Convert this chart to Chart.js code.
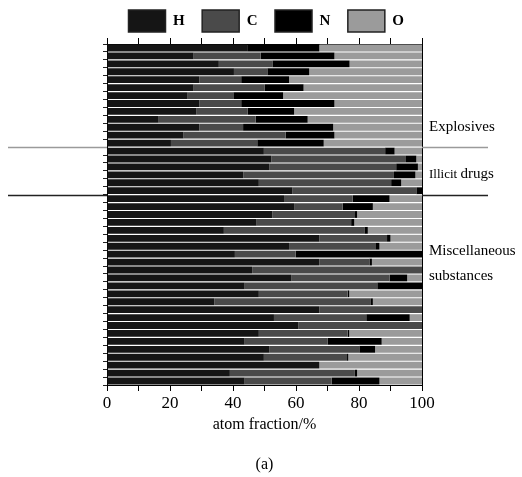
<!DOCTYPE html>
<html>
<head>
<meta charset="utf-8">
<script src="https://cdn.jsdelivr.net/npm/chart.js@4.4.1/dist/chart.umd.min.js"></script>
<style>
  html, body { margin: 0; padding: 0; background: #fff; }
  #wrap { width: 522px; height: 477px; position: relative; }
</style>
</head>
<body>
<div id="wrap"><canvas id="chart"></canvas></div>
<script>
// Sample groups (top to bottom)
const groupNames = ['Explosives', 'Illicit drugs', 'Miscellaneous substances'];
const groupSizes = [13, 6, 24];

// Atom fractions (%) per sample, top row first
const hydrogen = [44.5, 27.5, 35.5, 40.3, 29.3, 27.5, 25.6, 29.3, 28.3, 16.4, 29.3, 24.3, 20.3,
    49.8, 52.2, 51.6, 43.3, 48.2, 58.9,
    56.2, 59.4, 52.5, 47.5, 37.1, 67.4, 57.8, 40.6, 67.4, 46.1, 58.6, 43.7,
    48.2, 34.1, 67.4, 53.0, 60.7, 48.2, 43.7, 51.6, 49.8, 67.4, 39.0, 43.7];
const carbon = [0, 21.3, 17.0, 10.6, 13.3, 22.6, 14.5, 13.3, 16.4, 30.8, 13.9, 32.4, 27.4,
    38.5, 42.5, 40.2, 47.8, 42.0, 39.3,
    21.8, 15.4, 26.0, 30.0, 44.6, 21.5, 27.6, 19.3, 15.9, 53.9, 31.1, 42.1,
    28.2, 49.5, 32.6, 29.3, 39.3, 28.2, 26.3, 28.5, 26.4, 0, 39.7, 27.6];
const nitrogen = [22.9, 23.4, 24.5, 13.3, 15.2, 12.3, 15.8, 29.6, 14.7, 16.5, 28.6, 15.5, 21.1,
    3.0, 3.5, 6.9, 6.8, 3.2, 1.8,
    11.7, 9.6, 0.9, 1.0, 1.1, 1.1, 1.1, 40.1, 0.8, 0, 5.6, 14.2,
    0.5, 0.8, 0, 13.8, 0, 0.5, 17.2, 5.0, 0.4, 0, 0.7, 15.2];
const oxygen = [32.6, 27.8, 23.0, 35.8, 42.2, 37.6, 44.1, 27.8, 40.6, 36.3, 28.2, 27.8, 31.2,
    8.7, 1.8, 1.3, 2.1, 6.6, 0,
    10.3, 15.6, 20.6, 21.5, 17.2, 10.0, 13.5, 0, 15.9, 0, 4.7, 0,
    23.1, 15.6, 0, 3.9, 0, 23.1, 12.8, 14.9, 23.4, 32.6, 20.6, 13.5];

const xTicks = [0, 20, 40, 60, 80, 100];

const samples = hydrogen.map((v, i) => String(i + 1));

Chart.defaults.font.family = "'Liberation Serif', 'Times New Roman', serif";
Chart.defaults.color = '#000';

// group separator lines and group names on the right
const groupPlugin = {
    id: 'groups',
    afterDraw(chart) {
        const c = chart.ctx;
        const y = chart.scales.y;
        const area = chart.chartArea;
        const lineColors = ['#9a9a9a', '#222'];
        let idx = 0;
        c.save();
        for (let g = 0; g < groupSizes.length - 1; g++) {
            idx += groupSizes[g];
            const py = Math.round((y.getPixelForValue(idx - 1) + y.getPixelForValue(idx)) / 2) + 0.5;
            c.strokeStyle = lineColors[g];
            c.lineWidth = 1.5;
            c.beginPath();
            c.moveTo(8, py); c.lineTo(area.left, py);
            c.moveTo(area.right, py); c.lineTo(area.right + 66, py);
            c.stroke();
        }
        c.fillStyle = '#000';
        c.textBaseline = 'middle';
        c.textAlign = 'left';
        const tx = area.right + 7;
        c.font = "15px 'Liberation Serif'";
        c.fillText('Explosives', tx, y.getPixelForValue(10));
        c.font = "13px 'Liberation Serif'";
        c.fillText('Illicit', tx, y.getPixelForValue(16));
        const w = c.measureText('Illicit ').width;
        c.font = "15px 'Liberation Serif'";
        c.fillText('drugs', tx + w, y.getPixelForValue(16) - 1);
        c.fillText('Miscellaneous', tx, y.getPixelForValue(25.6));
        c.fillText('substances', tx, y.getPixelForValue(28.7));
        // caption
        c.textAlign = 'center';
        c.font = "16px 'Liberation Serif'";
        c.fillText('(a)', (area.left + area.right) / 2, area.bottom + 80);
        c.restore();
    }
};

const barOpts = { barPercentage: 0.86, categoryPercentage: 1.0, borderWidth: 0 };

new Chart(document.getElementById('chart'), {
    type: 'bar',
    data: {
        labels: samples,
        datasets: [
            { label: 'H', data: hydrogen, backgroundColor: '#151515', ...barOpts },
            { label: 'C', data: carbon, backgroundColor: '#4a4a4a', ...barOpts },
            { label: 'N', data: nitrogen, backgroundColor: '#000000', ...barOpts },
            { label: 'O', data: oxygen, backgroundColor: '#9b9b9b', ...barOpts }
        ]
    },
    options: {
        indexAxis: 'y',
        responsive: true,
        maintainAspectRatio: false,
        animation: false,
        layout: { padding: { left: 18, right: 0, top: 0, bottom: 0 } },
        plugins: {
            legend: {
                position: 'top',
                labels: {
                    boxWidth: 37,
                    boxHeight: 22,
                    padding: 10,
                    font: { size: 15, weight: 'bold' },
                    generateLabels(chart) {
                        const items = Chart.defaults.plugins.legend.labels.generateLabels(chart);
                        items.forEach(it => {
                            it.lineWidth = 1.5;
                            it.strokeStyle = '#222';
                            it.text = it.text + '\u2002';
                        });
                        return items;
                    }
                }
            },
            tooltip: { enabled: false }
        },
        scales: {
            x: {
                stacked: true,
                min: 0, max: 100,
                position: 'bottom',
                ticks: {
                    stepSize: 10,
                    autoSkip: false,
                    maxRotation: 0,
                    padding: 2,
                    font: { size: 17 },
                    callback: v => xTicks.includes(v) ? v : ''
                },
                grid: { drawOnChartArea: false, tickLength: 6, color: '#000' },
                border: { color: '#000', width: 1 },
                title: { display: true, text: 'atom fraction/%', font: { size: 16 }, padding: { top: 2, bottom: 43 } },
                afterFit(scale) { scale.height = 92; }
            },
            x2: {
                min: 0, max: 100,
                position: 'top',
                ticks: { stepSize: 10, display: false },
                grid: { drawOnChartArea: false, tickLength: 6, color: '#000' },
                border: { color: '#000', width: 1 },
                afterFit(scale) {
                    const lg = scale.chart.legend;
                    scale.height = Math.max(0, 44 - (lg ? lg.height : 0));
                }
            },
            y: {
                stacked: true,
                ticks: { display: false },
                grid: { drawOnChartArea: false, tickLength: 4, color: '#222' },
                border: { color: '#000', width: 1 },
                afterFit(scale) { scale.width = 89; }
            },
            y2: {
                position: 'right',
                min: 0, max: 1,
                ticks: { display: false },
                grid: { display: false },
                border: { display: true, color: '#000', width: 1 },
                afterFit(scale) { scale.width = 100; }
            }
        }
    },
    plugins: [groupPlugin]
});
</script>
</body>
</html>
